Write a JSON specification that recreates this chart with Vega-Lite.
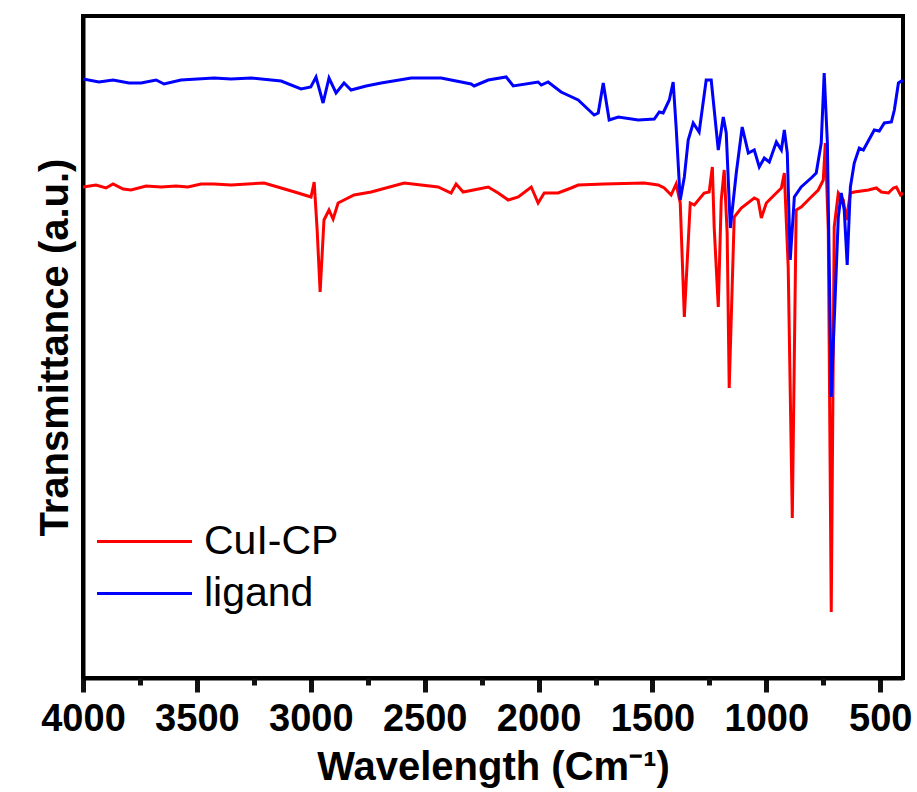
{
  "$schema": "https://vega.github.io/schema/vega-lite/v6.json",
  "width": 820,
  "height": 662,
  "autosize": {"type": "none"},
  "padding": {"left": 83, "top": 16, "right": 14, "bottom": 114},
  "background": "white",
  "config": {
    "view": {"stroke": "black", "strokeWidth": 4},
    "font": "Liberation Sans"
  },
  "data": {"values": [
    {"s":"CuI-CP","wn":4000,"t":491},{"s":"CuI-CP","wn":3943,"t":493},{"s":"CuI-CP","wn":3899,"t":490},{"s":"CuI-CP","wn":3868,"t":494},{"s":"CuI-CP","wn":3824,"t":489},{"s":"CuI-CP","wn":3789,"t":488},{"s":"CuI-CP","wn":3723,"t":492},{"s":"CuI-CP","wn":3657,"t":491},{"s":"CuI-CP","wn":3592,"t":492},{"s":"CuI-CP","wn":3539,"t":491},{"s":"CuI-CP","wn":3482,"t":494},{"s":"CuI-CP","wn":3425,"t":494},{"s":"CuI-CP","wn":3350,"t":493},{"s":"CuI-CP","wn":3205,"t":495},{"s":"CuI-CP","wn":3130,"t":490},{"s":"CuI-CP","wn":3056,"t":485},{"s":"CuI-CP","wn":2999,"t":481},{"s":"CuI-CP","wn":2985,"t":496},{"s":"CuI-CP","wn":2972,"t":448},{"s":"CuI-CP","wn":2959,"t":386},{"s":"CuI-CP","wn":2942,"t":458},{"s":"CuI-CP","wn":2920,"t":468},{"s":"CuI-CP","wn":2902,"t":459},{"s":"CuI-CP","wn":2880,"t":475},{"s":"CuI-CP","wn":2810,"t":483},{"s":"CuI-CP","wn":2735,"t":486},{"s":"CuI-CP","wn":2590,"t":495},{"s":"CuI-CP","wn":2441,"t":491},{"s":"CuI-CP","wn":2384,"t":485},{"s":"CuI-CP","wn":2362,"t":494},{"s":"CuI-CP","wn":2331,"t":486},{"s":"CuI-CP","wn":2221,"t":491},{"s":"CuI-CP","wn":2177,"t":485},{"s":"CuI-CP","wn":2133,"t":478},{"s":"CuI-CP","wn":2089,"t":481},{"s":"CuI-CP","wn":2032,"t":491},{"s":"CuI-CP","wn":2002,"t":475},{"s":"CuI-CP","wn":1975,"t":485},{"s":"CuI-CP","wn":1914,"t":485},{"s":"CuI-CP","wn":1857,"t":490},{"s":"CuI-CP","wn":1826,"t":493},{"s":"CuI-CP","wn":1712,"t":494},{"s":"CuI-CP","wn":1536,"t":495},{"s":"CuI-CP","wn":1475,"t":493},{"s":"CuI-CP","wn":1448,"t":490},{"s":"CuI-CP","wn":1418,"t":483},{"s":"CuI-CP","wn":1396,"t":494},{"s":"CuI-CP","wn":1378,"t":475},{"s":"CuI-CP","wn":1360,"t":361},{"s":"CuI-CP","wn":1334,"t":475},{"s":"CuI-CP","wn":1316,"t":473},{"s":"CuI-CP","wn":1273,"t":485},{"s":"CuI-CP","wn":1251,"t":486},{"s":"CuI-CP","wn":1237,"t":511},{"s":"CuI-CP","wn":1229,"t":451},{"s":"CuI-CP","wn":1211,"t":371},{"s":"CuI-CP","wn":1198,"t":478},{"s":"CuI-CP","wn":1185,"t":508},{"s":"CuI-CP","wn":1172,"t":445},{"s":"CuI-CP","wn":1163,"t":290},{"s":"CuI-CP","wn":1141,"t":461},{"s":"CuI-CP","wn":1110,"t":470},{"s":"CuI-CP","wn":1053,"t":480},{"s":"CuI-CP","wn":1036,"t":478},{"s":"CuI-CP","wn":1022,"t":460},{"s":"CuI-CP","wn":1000,"t":475},{"s":"CuI-CP","wn":965,"t":483},{"s":"CuI-CP","wn":934,"t":490},{"s":"CuI-CP","wn":921,"t":505},{"s":"CuI-CP","wn":904,"t":411},{"s":"CuI-CP","wn":886,"t":160},{"s":"CuI-CP","wn":869,"t":468},{"s":"CuI-CP","wn":847,"t":471},{"s":"CuI-CP","wn":803,"t":481},{"s":"CuI-CP","wn":772,"t":488},{"s":"CuI-CP","wn":750,"t":498},{"s":"CuI-CP","wn":741,"t":535},{"s":"CuI-CP","wn":728,"t":448},{"s":"CuI-CP","wn":715,"t":66},{"s":"CuI-CP","wn":702,"t":451},{"s":"CuI-CP","wn":684,"t":485},{"s":"CuI-CP","wn":662,"t":478},{"s":"CuI-CP","wn":649,"t":458},{"s":"CuI-CP","wn":631,"t":485},{"s":"CuI-CP","wn":614,"t":486},{"s":"CuI-CP","wn":552,"t":488},{"s":"CuI-CP","wn":517,"t":490},{"s":"CuI-CP","wn":495,"t":486},{"s":"CuI-CP","wn":464,"t":485},{"s":"CuI-CP","wn":442,"t":490},{"s":"CuI-CP","wn":429,"t":491},{"s":"CuI-CP","wn":411,"t":483},{"s":"CuI-CP","wn":400,"t":485},
    {"s":"ligand","wn":4000,"t":599},{"s":"ligand","wn":3930,"t":596},{"s":"ligand","wn":3868,"t":598},{"s":"ligand","wn":3798,"t":595},{"s":"ligand","wn":3745,"t":595},{"s":"ligand","wn":3679,"t":598},{"s":"ligand","wn":3644,"t":594},{"s":"ligand","wn":3570,"t":598},{"s":"ligand","wn":3425,"t":600},{"s":"ligand","wn":3350,"t":599},{"s":"ligand","wn":3262,"t":600},{"s":"ligand","wn":3130,"t":597},{"s":"ligand","wn":3043,"t":589},{"s":"ligand","wn":3000,"t":591},{"s":"ligand","wn":2977,"t":601},{"s":"ligand","wn":2946,"t":575},{"s":"ligand","wn":2920,"t":600},{"s":"ligand","wn":2889,"t":585},{"s":"ligand","wn":2854,"t":595},{"s":"ligand","wn":2823,"t":588},{"s":"ligand","wn":2757,"t":592},{"s":"ligand","wn":2691,"t":595},{"s":"ligand","wn":2559,"t":600},{"s":"ligand","wn":2428,"t":600},{"s":"ligand","wn":2296,"t":594},{"s":"ligand","wn":2283,"t":592},{"s":"ligand","wn":2221,"t":598},{"s":"ligand","wn":2142,"t":601},{"s":"ligand","wn":2111,"t":592},{"s":"ligand","wn":2002,"t":596},{"s":"ligand","wn":1988,"t":593},{"s":"ligand","wn":1958,"t":596},{"s":"ligand","wn":1901,"t":586},{"s":"ligand","wn":1826,"t":578},{"s":"ligand","wn":1756,"t":563},{"s":"ligand","wn":1738,"t":565},{"s":"ligand","wn":1716,"t":595},{"s":"ligand","wn":1690,"t":558},{"s":"ligand","wn":1650,"t":561},{"s":"ligand","wn":1562,"t":558},{"s":"ligand","wn":1492,"t":559},{"s":"ligand","wn":1470,"t":566},{"s":"ligand","wn":1453,"t":565},{"s":"ligand","wn":1426,"t":578},{"s":"ligand","wn":1409,"t":596},{"s":"ligand","wn":1396,"t":551},{"s":"ligand","wn":1378,"t":478},{"s":"ligand","wn":1360,"t":501},{"s":"ligand","wn":1343,"t":538},{"s":"ligand","wn":1321,"t":555},{"s":"ligand","wn":1295,"t":546},{"s":"ligand","wn":1264,"t":598},{"s":"ligand","wn":1242,"t":598},{"s":"ligand","wn":1211,"t":528},{"s":"ligand","wn":1189,"t":561},{"s":"ligand","wn":1176,"t":545},{"s":"ligand","wn":1158,"t":450},{"s":"ligand","wn":1132,"t":505},{"s":"ligand","wn":1106,"t":551},{"s":"ligand","wn":1079,"t":525},{"s":"ligand","wn":1053,"t":528},{"s":"ligand","wn":1031,"t":511},{"s":"ligand","wn":1009,"t":520},{"s":"ligand","wn":987,"t":516},{"s":"ligand","wn":956,"t":536},{"s":"ligand","wn":934,"t":528},{"s":"ligand","wn":921,"t":548},{"s":"ligand","wn":908,"t":525},{"s":"ligand","wn":895,"t":418},{"s":"ligand","wn":877,"t":481},{"s":"ligand","wn":847,"t":491},{"s":"ligand","wn":803,"t":500},{"s":"ligand","wn":781,"t":505},{"s":"ligand","wn":759,"t":535},{"s":"ligand","wn":746,"t":605},{"s":"ligand","wn":732,"t":535},{"s":"ligand","wn":715,"t":281},{"s":"ligand","wn":684,"t":461},{"s":"ligand","wn":671,"t":485},{"s":"ligand","wn":658,"t":468},{"s":"ligand","wn":645,"t":413},{"s":"ligand","wn":631,"t":491},{"s":"ligand","wn":614,"t":515},{"s":"ligand","wn":592,"t":530},{"s":"ligand","wn":574,"t":528},{"s":"ligand","wn":526,"t":548},{"s":"ligand","wn":504,"t":547},{"s":"ligand","wn":482,"t":555},{"s":"ligand","wn":451,"t":556},{"s":"ligand","wn":438,"t":568},{"s":"ligand","wn":420,"t":595},{"s":"ligand","wn":407,"t":597},{"s":"ligand","wn":400,"t":597}
  ]},
  "resolve": {"axis": {"x": "independent"}},
  "layer": [
    {
      "transform": [{"filter": "datum.s === 'CuI-CP'"}],
      "mark": {"type": "line", "strokeWidth": 3, "clip": true},
      "encoding": {
        "x": {
          "field": "wn", "type": "quantitative",
          "scale": {"domain": [4000, 400], "nice": false, "zero": false},
          "axis": {
            "orient": "bottom",
            "values": [4000,3500,3000,2500,2000,1500,1000,500],
            "format": "d",
            "gridOpacity": 0,
            "domainColor": "black", "domainWidth": 4,
            "tickColor": "#111111", "tickWidth": 5, "tickSize": 14,
            "labelFont": "Liberation Sans", "labelFontSize": 38, "labelFontWeight": "bold", "labelColor": "black",
            "labelPadding": 8, "labelFlush": false, "labelOverlap": false,
            "title": "Wavelength (Cm⁻¹)",
            "titleFont": "Liberation Sans", "titleFontSize": 40, "titleFontWeight": "bold", "titleColor": "black",
            "titlePadding": 9
          }
        },
        "y": {
          "field": "t", "type": "quantitative",
          "scale": {"domain": [0, 662], "nice": false, "zero": false},
          "axis": {
            "labels": false, "ticks": false, "gridOpacity": 0,
            "domainColor": "black", "domainWidth": 4,
            "title": "Transmittance (a.u.)",
            "titleFont": "Liberation Sans", "titleFontSize": 40, "titleFontWeight": "bold", "titleColor": "black",
            "titlePadding": 8
          }
        },
        "color": {
          "field": "s", "type": "nominal",
          "scale": {"domain": ["CuI-CP", "ligand"], "range": ["#FF0000", "#0000FF"]},
          "legend": {
            "title": null,
            "orient": "none", "legendX": 36, "legendY": 500,
            "symbolType": "M-2,0H2", "symbolSize": 2256, "symbolStrokeWidth": 3,
            "labelFont": "Liberation Sans", "labelFontSize": 41, "labelColor": "black",
            "labelOffset": 34, "rowPadding": 6, "labelLimit": 400
          }
        }
      }
    },
    {
      "transform": [{"filter": "datum.s === 'ligand'"}],
      "mark": {"type": "line", "strokeWidth": 3, "clip": true},
      "encoding": {
        "x": {
          "field": "wn", "type": "quantitative",
          "axis": {
            "orient": "bottom",
            "values": [3750,3250,2750,2250,1750,1250,750],
            "labels": false, "domain": false, "gridOpacity": 0,
            "tickColor": "#111111", "tickWidth": 5, "tickSize": 7,
            "title": null
          }
        },
        "y": {"field": "t", "type": "quantitative"},
        "color": {"field": "s", "type": "nominal"}
      }
    }
  ]
}
